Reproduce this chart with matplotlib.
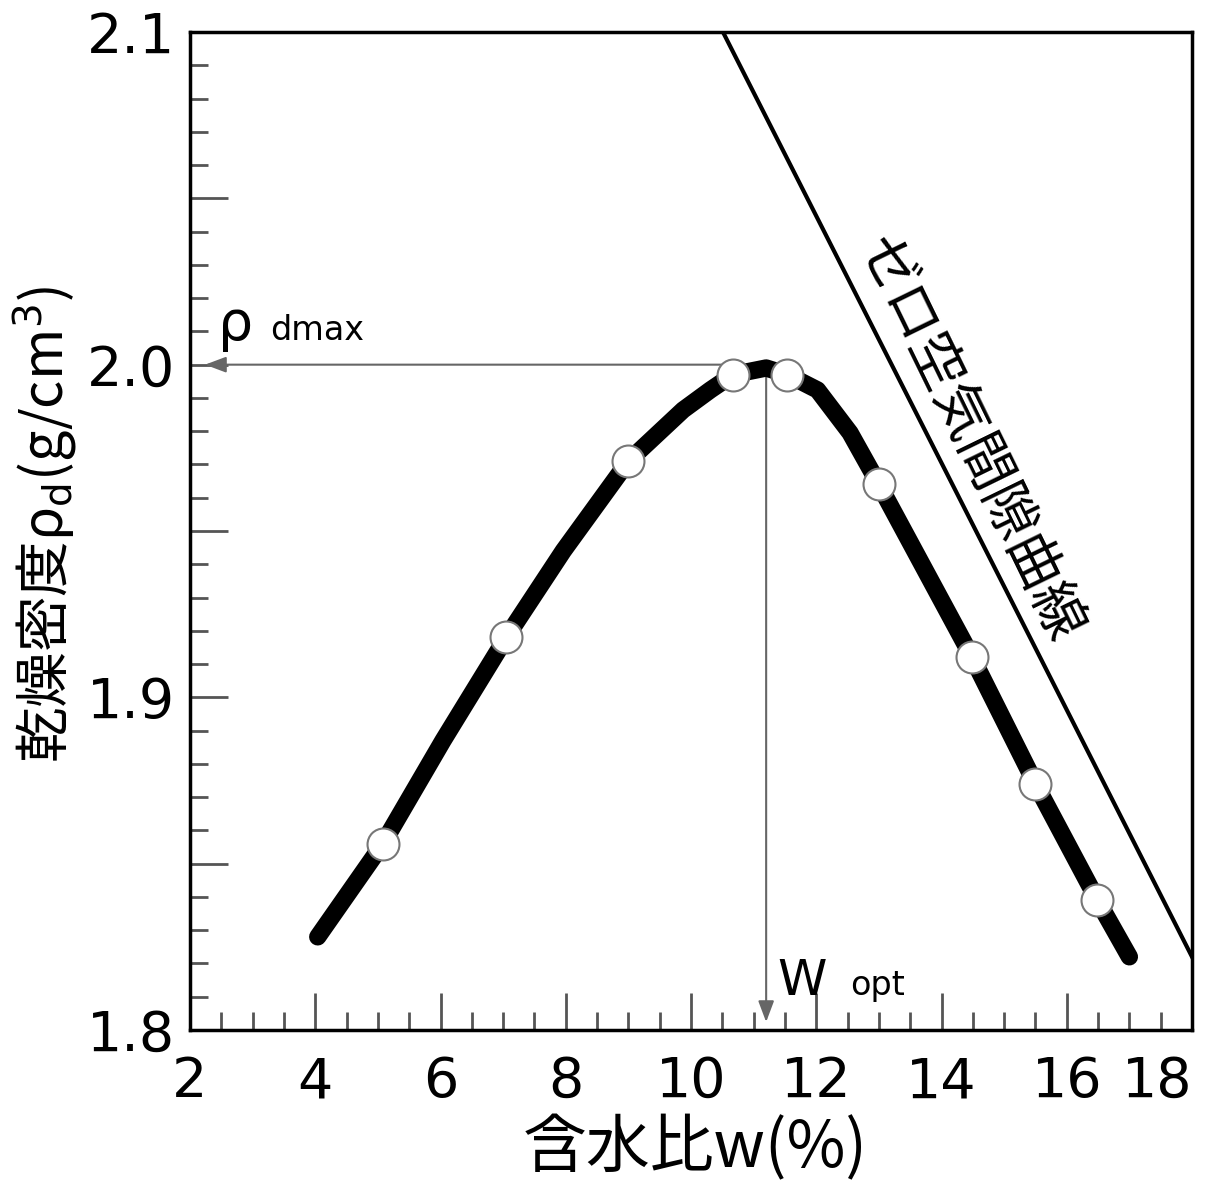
import numpy as np
import matplotlib
matplotlib.use('Agg')
import matplotlib.pyplot as plt
from matplotlib.ticker import MultipleLocator, FuncFormatter

# compaction curve (centre line of the thick band)
curve_w = [4.04, 5.08, 6.04, 7.05, 7.96, 9.0, 9.875, 10.31, 10.67, 11.2,
           11.54, 12.02, 12.54, 13.0, 14.49, 15.5, 16.49, 17.0]
curve_rho = [1.828, 1.856, 1.887, 1.918, 1.944, 1.971, 1.9864, 1.9924, 1.997, 1.9990,
             1.997, 1.9924, 1.9795, 1.964, 1.912, 1.874, 1.839, 1.822]

# test points (open circles)
pt_w = [5.08, 7.05, 9.0, 10.67, 11.54, 13.0, 14.49, 15.5, 16.49]
pt_rho = [1.856, 1.918, 1.971, 1.997, 1.997, 1.964, 1.912, 1.874, 1.839]

# zero air void line
zav_w = [10.51, 18.0]
zav_rho = [2.1, 1.822]

# optimum
w_opt = 11.2
rho_dmax = 2.0

x_ticks = [2, 4, 6, 8, 10, 12, 14, 16, 18]

CJK = ['Noto Sans CJK JP', 'DejaVu Sans']

fig = plt.figure(figsize=(12.22, 11.89), dpi=100)
ax = fig.add_axes([190 / 1222, 1 - 1030 / 1189, 1002 / 1222, 998 / 1189])
ax.set_xlim(2, 18)
ax.set_ylim(1.8, 2.1)

# arrows to the axes
arrow_kw = dict(arrowstyle='-|>,head_length=0.4,head_width=0.15', color='#666666',
                lw=1.5, mutation_scale=32, shrinkA=0, shrinkB=0)
ax.annotate('', xy=(2.24, rho_dmax), xytext=(w_opt, rho_dmax), arrowprops=arrow_kw, zorder=2)
ax.annotate('', xy=(w_opt, 1.8024), xytext=(w_opt, rho_dmax), arrowprops=arrow_kw, zorder=2)

ax.plot(zav_w, zav_rho, color='black', lw=3, zorder=3)
ax.plot(curve_w, curve_rho, color='black', lw=12.5, solid_capstyle='round',
        solid_joinstyle='round', zorder=4)
ax.plot(pt_w, pt_rho, 'o', ms=23, mfc='white', mec='#777777', mew=1.5, zorder=5)

# annotations
ax.text(2.45, 2.0075, 'ρ', fontsize=40, ha='left', va='baseline')
ax.text(3.28, 2.0075, 'dmax', fontsize=24, ha='left', va='baseline')
ax.text(11.38, 1.8106, 'W', fontsize=36, ha='left', va='baseline')
ax.text(12.54, 1.8106, 'opt', fontsize=24, ha='left', va='baseline')
ax.text(14.43, 1.9774, 'ゼロ空気間隙曲線', fontsize=40, family=CJK,
        rotation=-64, rotation_mode='anchor', ha='center', va='center')

# ticks
ax.set_xticks(x_ticks)
ax.xaxis.set_minor_locator(MultipleLocator(0.5))
ax.yaxis.set_major_locator(MultipleLocator(0.05))
ax.yaxis.set_minor_locator(MultipleLocator(0.01))
ax.yaxis.set_major_formatter(FuncFormatter(
    lambda v, pos: f'{v:.1f}' if abs(v * 10 - round(v * 10)) < 1e-6 else ''))
ax.tick_params(which='both', direction='in', top=False, right=False,
               color='#555555', width=2)
ax.tick_params(which='major', length=27)
ax.tick_params(which='minor', length=13)
ax.tick_params(axis='x', which='major', pad=18, labelsize=40)
ax.tick_params(axis='y', which='major', pad=11, labelsize=40)
ax.get_xticklabels()[-1].set_ha('right')

for s in ax.spines.values():
    s.set_linewidth(2.5)
    s.set_color('black')

ax.set_xlabel('含水比w(%)', fontsize=46, family=CJK)
ax.xaxis.set_label_coords(0.504, -0.086)
ax.set_ylabel('乾燥密度ρ$_\\mathrm{d}$(g/cm$^3$)', fontsize=40, family=CJK)
ax.yaxis.set_label_coords(-0.11, 0.507)

fig.savefig('out.png', dpi=100)
